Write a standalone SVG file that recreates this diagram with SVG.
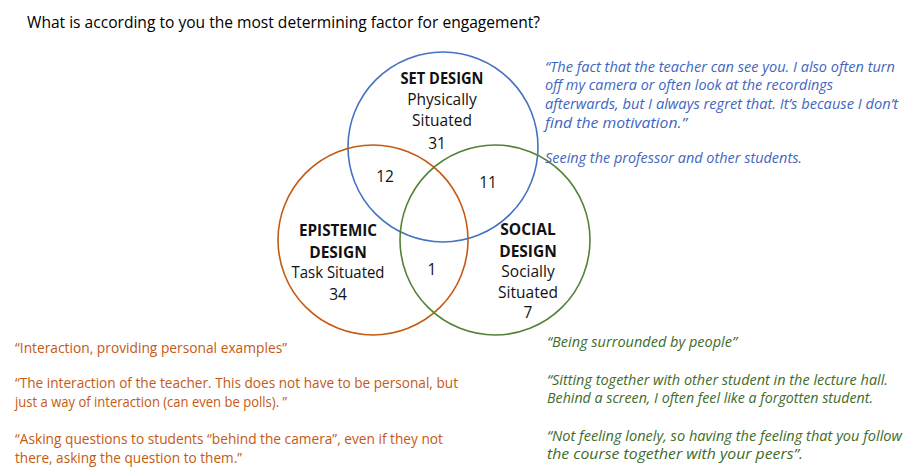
<svg xmlns="http://www.w3.org/2000/svg" width="910" height="472" viewBox="0 0 910 472">
<style>
text{font-family:"Open Sans","Liberation Sans",sans-serif;}
.title{font-size:16.5px;fill:#000;}
.lab{font-size:15.5px;fill:#111;text-anchor:middle;}
.b{font-weight:bold;}
.q{font-size:13.6px;}
.it{font-style:italic;}
.blue{fill:#3F66BF;}
.orange{fill:#C55A11;}
.green{fill:#3E6B27;}
circle{fill:none;stroke-width:1.6;}
</style>
<rect width="910" height="472" fill="#fff"/>
<text class="title" x="27" y="28" textLength="513" lengthAdjust="spacingAndGlyphs">What is according to you the most determining factor for engagement?</text>

<g id="set-design">
<circle cx="443" cy="147" r="95" stroke="#4472C4"/>
<text class="lab b" x="442" y="84" textLength="83" lengthAdjust="spacingAndGlyphs">SET DESIGN</text>
<text class="lab" x="442" y="105">Physically</text>
<text class="lab" x="442" y="126">Situated</text>
<text class="lab" x="437" y="149">31</text>
</g>
<g id="epistemic-design">
<circle cx="373" cy="240" r="95" stroke="#C55A11"/>
<text class="lab b" x="338" y="236" textLength="78" lengthAdjust="spacingAndGlyphs">EPISTEMIC</text>
<text class="lab b" x="338" y="258">DESIGN</text>
<text class="lab" x="338" y="278" textLength="93" lengthAdjust="spacingAndGlyphs">Task Situated</text>
<text class="lab" x="338" y="300">34</text>
</g>
<g id="social-design">
<circle cx="495" cy="240" r="95" stroke="#548235"/>
<text class="lab b" x="528" y="235">SOCIAL</text>
<text class="lab b" x="528" y="257">DESIGN</text>
<text class="lab" x="528" y="277">Socially</text>
<text class="lab" x="528" y="298">Situated</text>
<text class="lab" x="528" y="318">7</text>
</g>
<g id="overlaps">
<text class="lab" x="385" y="182">12</text>
<text class="lab" x="488" y="188">11</text>
<text class="lab" x="432" y="275">1</text>
</g>

<g id="blue-quotes" class="q it blue">
<text x="545" y="72" textLength="350" lengthAdjust="spacingAndGlyphs">“The fact that the teacher can see you. I also often turn</text>
<text x="545" y="90" textLength="288" lengthAdjust="spacingAndGlyphs">off my camera or often look at the recordings</text>
<text x="545" y="109" textLength="353" lengthAdjust="spacingAndGlyphs">afterwards, but I always regret that. It’s because I don’t</text>
<text x="545" y="128" textLength="142" lengthAdjust="spacingAndGlyphs">find the motivation.”</text>
<text x="545" y="163" textLength="257" lengthAdjust="spacingAndGlyphs">Seeing the professor and other students.</text>
</g>
<g id="orange-quotes" class="q orange">
<text x="15" y="353" textLength="272" lengthAdjust="spacingAndGlyphs">“Interaction, providing personal examples”</text>
<text x="15" y="388" textLength="443" lengthAdjust="spacingAndGlyphs">“The interaction of the teacher. This does not have to be personal, but</text>
<text x="15" y="407" textLength="272" lengthAdjust="spacingAndGlyphs">just a way of interaction (can even be polls). ”</text>
<text x="15" y="444" textLength="428" lengthAdjust="spacingAndGlyphs">“Asking questions to students “behind the camera”, even if they not</text>
<text x="15" y="463" textLength="227" lengthAdjust="spacingAndGlyphs">there, asking the question to them.”</text>
</g>
<g id="green-quotes" class="q it green">
<text x="547" y="347" textLength="190" lengthAdjust="spacingAndGlyphs">“Being surrounded by people”</text>
<text x="547" y="385" textLength="341" lengthAdjust="spacingAndGlyphs">“Sitting together with other student in the lecture hall.</text>
<text x="547" y="403" textLength="326" lengthAdjust="spacingAndGlyphs">Behind a screen, I often feel like a forgotten student.</text>
<text x="547" y="441" textLength="355" lengthAdjust="spacingAndGlyphs">“Not feeling lonely, so having the feeling that you follow</text>
<text x="547" y="459" textLength="256" lengthAdjust="spacingAndGlyphs">the course together with your peers”.</text>
</g>
</svg>
